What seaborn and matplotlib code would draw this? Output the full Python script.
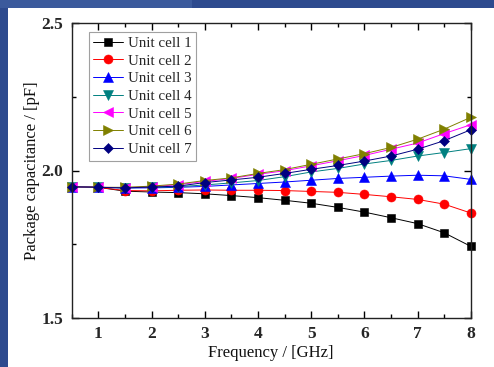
import matplotlib
matplotlib.use("Agg")
import matplotlib.pyplot as plt
import matplotlib.patches as mpatches
from matplotlib.ticker import MultipleLocator, FormatStrFormatter
import seaborn as sns
import pandas as pd

# Frequency sweep (GHz)
freq = [0.5, 1.0, 1.5, 2.0, 2.5, 3.0, 3.5, 4.0, 4.5, 5.0, 5.5, 6.0, 6.5, 7.0, 7.5, 8.0]

# Package capacitance (pF) per unit cell
cell1 = [1.945, 1.943, 1.930, 1.927, 1.925, 1.921, 1.915, 1.908, 1.899, 1.889, 1.875, 1.859, 1.840, 1.820, 1.789, 1.743]
cell2 = [1.945, 1.943, 1.932, 1.931, 1.933, 1.934, 1.933, 1.933, 1.932, 1.929, 1.926, 1.919, 1.911, 1.902, 1.886, 1.856]
cell3 = [1.945, 1.943, 1.941, 1.941, 1.943, 1.946, 1.951, 1.956, 1.961, 1.967, 1.973, 1.977, 1.981, 1.984, 1.982, 1.970]
cell4 = [1.945, 1.943, 1.941, 1.943, 1.945, 1.951, 1.958, 1.966, 1.979, 1.995, 2.007, 2.022, 2.034, 2.049, 2.061, 2.074]
cell5 = [1.945, 1.943, 1.942, 1.945, 1.952, 1.963, 1.973, 1.987, 1.999, 2.016, 2.033, 2.051, 2.072, 2.093, 2.125, 2.155]
cell6 = [1.945, 1.943, 1.943, 1.947, 1.954, 1.966, 1.975, 1.990, 2.003, 2.021, 2.039, 2.057, 2.078, 2.106, 2.140, 2.180]
cell7 = [1.945, 1.943, 1.941, 1.944, 1.947, 1.959, 1.968, 1.977, 1.990, 2.004, 2.017, 2.032, 2.049, 2.072, 2.101, 2.138]

labels = ["Unit cell 1", "Unit cell 2", "Unit cell 3", "Unit cell 4",
          "Unit cell 5", "Unit cell 6", "Unit cell 7"]
series = [cell1, cell2, cell3, cell4, cell5, cell6, cell7]
colors = ["#000000", "#ff0000", "#0000ff", "#008080", "#ff00ff", "#808000", "#000080"]
markers = ["s", "o", "^", "v", "<", ">", "D"]
msizes = [6, 6.5, 6.5, 6.5, 6.5, 6.5, 5.5]

x_ticks = [1, 2, 3, 4, 5, 6, 7, 8]
y_ticks = [1.5, 2.0, 2.5]

sns.set_theme(style="white")
plt.rcParams["font.family"] = ["Liberation Serif", "DejaVu Serif"]

fig = plt.figure(figsize=(4.94, 3.67), dpi=100)
fig.patch.set_facecolor("#2d4a8e")
# white panel behind the chart
fig.patches.append(mpatches.Rectangle((8 / 494, 0), 1.0, 1 - 8 / 367,
                                      transform=fig.transFigure,
                                      facecolor="white", edgecolor="none", zorder=-10))
# lighter strip along the top-left
fig.patches.append(mpatches.Rectangle((0, 1 - 8 / 367), 192 / 494, 8 / 367,
                                      transform=fig.transFigure,
                                      facecolor="#3b5a9c", edgecolor="none", zorder=-10))

ax = fig.add_axes([71.7 / 494, 1 - 318 / 367, 399 / 494, 295 / 367])
ax.set_zorder(5)
ax.set_facecolor("white")

for lab, vals, c, m, ms in zip(labels, series, colors, markers, msizes):
    df = pd.DataFrame({"f": freq, "c": vals})
    sns.lineplot(data=df, x="f", y="c", ax=ax, color=c, marker=m,
                 markersize=ms, markeredgewidth=0.4, markeredgecolor=c,
                 linewidth=0.7, label=lab)

for line in ax.get_lines():
    line.set_clip_on(False)

ax.set_xlim(0.5, 8)
ax.set_ylim(1.5, 2.5)
ax.set_xticks(x_ticks)
ax.set_yticks(y_ticks)
ax.xaxis.set_minor_locator(MultipleLocator(0.5))
ax.yaxis.set_minor_locator(MultipleLocator(0.25))
ax.yaxis.set_major_formatter(FormatStrFormatter("%.1f"))
ax.tick_params(which="both", direction="in", top=True, right=True,
               bottom=True, left=True, color="black", width=1)
ax.tick_params(which="major", length=5, labelsize=12.5, pad=6)
ax.tick_params(which="minor", length=3)
for t in ax.get_xticklabels() + ax.get_yticklabels():
    t.set_fontweight("bold")

for s in ax.spines.values():
    s.set_visible(True)
    s.set_color("#222222")
    s.set_linewidth(1.0)

ax.set_xlabel("Frequency / [GHz]", fontsize=12, labelpad=2, color="#111111")
ax.set_ylabel("Package capacitance / [pF]", fontsize=12, labelpad=1, color="#111111")

leg = ax.legend(loc="upper left", bbox_to_anchor=(0.043, 0.97), fontsize=10.8,
                frameon=True, fancybox=False, edgecolor="#888888",
                handlelength=2.0, handletextpad=0.3, labelspacing=0.28,
                borderpad=0.3, borderaxespad=0)
leg.get_frame().set_linewidth(0.8)

fig.savefig("out.png", dpi=100, facecolor=fig.get_facecolor())
